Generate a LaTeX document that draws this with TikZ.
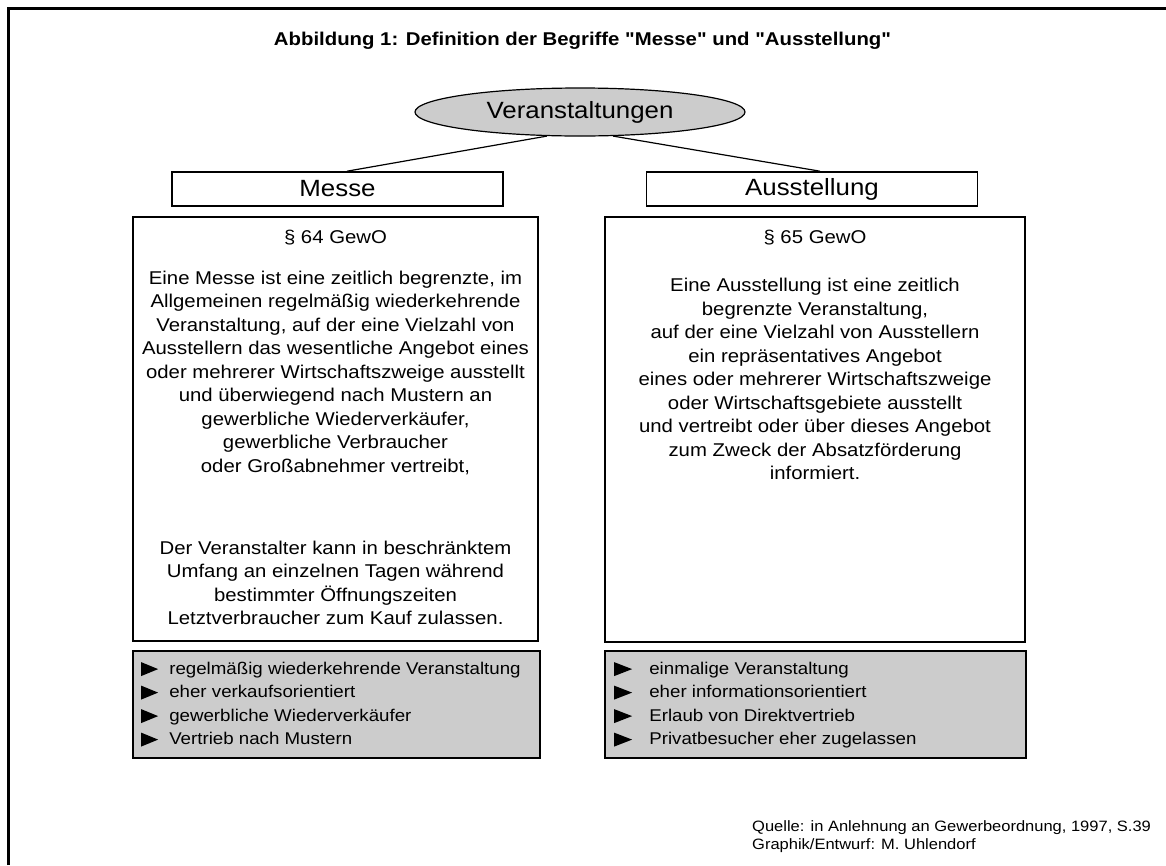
\documentclass[tikz,border=0pt]{standalone}
\usepackage{fontspec}
\setmainfont{Liberation Sans}[FakeStretch=1.1, Ligatures=TeXReset]
\usetikzlibrary{shapes.geometric,calc}
\begin{document}
\begin{tikzpicture}[x=1pt,y=-1pt,
  headbox/.style={draw, line width=1.6pt, minimum width=331pt, minimum height=34pt,
    inner sep=0pt, font=\fontsize{23.5}{28}\selectfont},
  mainbox/.style={draw, line width=1.8pt, inner sep=0pt},
  listbox/.style={draw, line width=1.8pt, fill=black!20, inner sep=0pt},
  body/.style={align=center, inner sep=0pt, anchor=north, font=\fontsize{18.5}{23.5}\selectfont},
  listtext/.style={align=left, inner sep=0pt, anchor=north west, font=\fontsize{17}{23.5}\selectfont},
  bullet/.style={fill=black},
  link/.style={line width=1.2pt}
]
\useasboundingbox (0,0) rectangle (1166,865);

% outer frame (left and top edges)
\draw[line width=3pt] (8.5,865) -- (8.5,8.5) -- (1166,8.5);

% title
\node[anchor=base, inner sep=0pt, font=\fontsize{18.5}{22}\selectfont\bfseries] (title) at (582.5,45)
  {Abbildung 1: Definition der Begriffe "Messe" und "Ausstellung"};

% root ellipse
\node[ellipse, draw, line width=1.2pt, fill=black!20, minimum width=330pt, minimum height=48pt,
  inner sep=0pt, font=\fontsize{23.5}{28}\selectfont] (ev) at (580,112) {Veranstaltungen};

% category headings
\node[headbox] (messe) at (337.5,189) {Messe};
\node[headbox] (ausst) at (812,189) {Ausstellung};

\draw[link] (ev.216) -- ($(messe.north)+(9.5,0)$);
\draw[link] (ev.324) -- ($(ausst.north)+(8,0)$);

% definition boxes
\node[mainbox, minimum width=405pt, minimum height=424pt] (mdef) at (335.5,429) {};
\node[mainbox, minimum width=420pt, minimum height=425pt] (adef) at (815,429.5) {};

\node[body] (mpar) at ($(mdef.north)+(0,14)$) {\S\ 64 GewO};
\node[body] (mtext1) at ($(mdef.north)+(0,54.5)$) {Eine Messe ist eine zeitlich begrenzte, im\\
Allgemeinen regelmäßig wiederkehrende\\
Veranstaltung, auf der eine Vielzahl von\\
Ausstellern das wesentliche Angebot eines\\
oder mehrerer Wirtschaftszweige ausstellt\\
und überwiegend nach Mustern an\\
gewerbliche Wiederverkäufer,\\
gewerbliche Verbraucher\\
oder Großabnehmer vertreibt,};
\node[body] (mtext2) at ($(mdef.north)+(0,324.5)$) {Der Veranstalter kann in beschränktem\\
Umfang an einzelnen Tagen während\\
bestimmter Öffnungszeiten\\
Letztverbraucher zum Kauf zulassen.};

\node[body] (apar) at ($(adef.north)+(0,14)$) {\S\ 65 GewO};
\node[body] (atext) at ($(adef.north)+(0,62)$) {Eine Ausstellung ist eine zeitlich\\
begrenzte Veranstaltung,\\
auf der eine Vielzahl von Ausstellern\\
ein repräsentatives Angebot\\
eines oder mehrerer Wirtschaftszweige\\
oder Wirtschaftsgebiete ausstellt\\
und vertreibt oder über dieses Angebot\\
zum Zweck der Absatzförderung\\
informiert.};

% summary boxes
\node[listbox, minimum width=407pt, minimum height=107pt] (mlist) at (336.5,704.5) {};
\node[listbox, minimum width=421pt, minimum height=107pt] (alist) at (815.5,704.5) {};

\node[listtext] (mitems) at ($(mlist.north west)+(37,11.5)$) {regelmäßig wiederkehrende Veranstaltung\\
eher verkaufsorientiert\\
gewerbliche Wiederverkäufer\\
Vertrieb nach Mustern};
\node[listtext] (aitems) at ($(alist.north west)+(45,11.5)$) {einmalige Veranstaltung\\
eher informationsorientiert\\
Erlaub von Direktvertrieb\\
Privatbesucher eher zugelassen};

\foreach \k in {0,1,2,3}{
  \fill[bullet] ($(mlist.north west)+(9,12+23.5*\k)$) -- ++(0,14) -- ++(17,-7) -- cycle;
  \fill[bullet] ($(alist.north west)+(10,12+23.5*\k)$) -- ++(0,14) -- ++(18,-7) -- cycle;
}

% source note
\node[anchor=north west, align=left, inner sep=0pt, font=\fontsize{15}{18}\selectfont] (src) at (752,820)
  {Quelle: in Anlehnung an Gewerbeordnung, 1997, S.39\\
Graphik/Entwurf: M. Uhlendorf};
\end{tikzpicture}
\end{document}
